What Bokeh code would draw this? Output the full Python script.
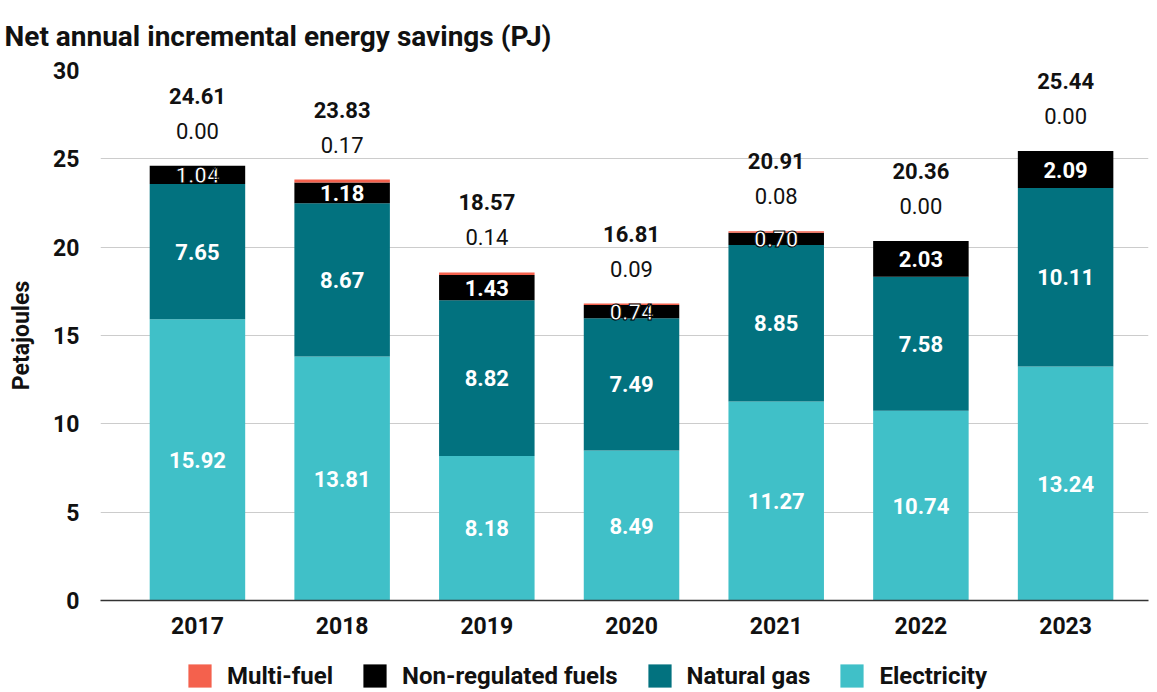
from bokeh.plotting import figure
from bokeh.models import ColumnDataSource, Range1d, FixedTicker, Legend, LegendItem
from bokeh.layouts import column
from bokeh.core.properties import value
from bokeh.embed import file_html
from bokeh.resources import INLINE

years = ["2017", "2018", "2019", "2020", "2021", "2022", "2023"]
electricity = [15.92, 13.81, 8.18, 8.49, 11.27, 10.74, 13.24]
natural_gas = [7.65, 8.67, 8.82, 7.49, 8.85, 7.58, 10.11]
non_regulated = [1.04, 1.18, 1.43, 0.74, 0.70, 2.03, 2.09]
multi_fuel = [0.00, 0.17, 0.14, 0.09, 0.08, 0.00, 0.00]
totals = [24.61, 23.83, 18.57, 16.81, 20.91, 20.36, 25.44]
y_ticks = [0, 5, 10, 15, 20, 25, 30]
series_names = ["Multi-fuel", "Non-regulated fuels", "Natural gas", "Electricity"]

C_ELEC = "#40c0c8"
C_GAS = "#02727f"
C_NONREG = "#000000"
C_MULTI = "#f4614d"
FONT = "Roboto"

x = list(range(len(years)))
e_mid = [e / 2 for e in electricity]
g_mid = [e + g / 2 for e, g in zip(electricity, natural_gas)]
n_mid = [e + g + n / 2 for e, g, n in zip(electricity, natural_gas, non_regulated)]
tops = [e + g + n + m for e, g, n, m in zip(electricity, natural_gas, non_regulated, multi_fuel)]
# thin segments get a dark halo round their label (the label spills out of the segment)
n_outline = ["black" if n < 1.1 else "rgba(0,0,0,0)" for n in non_regulated]

src = ColumnDataSource(dict(
    x=x, elec=electricity, gas=natural_gas, nonreg=non_regulated, multi=multi_fuel,
    e_mid=e_mid, g_mid=g_mid, n_mid=n_mid, top=tops, n_outline=n_outline,
    e_txt=[f"{v:.2f}" for v in electricity],
    g_txt=[f"{v:.2f}" for v in natural_gas],
    n_txt=[f"{v:.2f}" for v in non_regulated],
    m_txt=[f"{v:.2f}" for v in multi_fuel],
    t_txt=[f"{v:.2f}" for v in totals],
))

W = 1157
H_MAIN = 650
H_LEG = 42

p = figure(width=W, height=H_MAIN, x_range=Range1d(-0.670, 6.573), y_range=Range1d(0, 30),
           output_backend="svg", toolbar_location=None)
p.min_border_left = 100
p.min_border_right = 9
p.min_border_bottom = 50
p.min_border_top = 0
p.outline_line_color = None

p.title.text = "Net annual incremental energy savings (PJ)"
p.title.text_font = FONT
p.title.text_font_size = "28px"
p.title.text_font_style = "bold"
p.title.text_color = "#111111"
p.title.align = "left"
p.title.offset = -96
p.title.standoff = 35

rs = p.vbar_stack(["elec", "gas", "nonreg", "multi"], x="x", width=0.66,
                  fill_color=[C_ELEC, C_GAS, C_NONREG, C_MULTI], line_color=None, source=src)

common = dict(source=src, text_align="center", text_baseline="middle",
              text_font=value(FONT), text_font_size="22px")
p.text(x="x", y="e_mid", text="e_txt", text_color="white", text_font_style="bold", **common)
p.text(x="x", y="g_mid", text="g_txt", text_color="white", text_font_style="bold", **common)
p.text(x="x", y="n_mid", text="n_txt", text_color="white", text_font_style="bold",
       text_outline_color="n_outline", **common)
p.text(x="x", y="top", text="m_txt", text_color="#111111", text_font_style="normal",
       y_offset=-35, **common)
p.text(x="x", y="top", text="t_txt", text_color="#111111", text_font_style="bold",
       y_offset=-70, **common)

p.xaxis.ticker = FixedTicker(ticks=x)
p.xaxis.major_label_overrides = {i: y for i, y in enumerate(years)}
p.xaxis.major_tick_line_color = None
p.xaxis.minor_tick_line_color = None
p.xaxis.axis_line_color = "#333333"
p.xaxis.axis_line_width = 1.5
p.xaxis.major_label_text_font = FONT
p.xaxis.major_label_text_font_size = "23px"
p.xaxis.major_label_text_font_style = "bold"
p.xaxis.major_label_text_color = "#111111"
p.xaxis.major_label_standoff = 10

p.yaxis.ticker = FixedTicker(ticks=y_ticks)
p.yaxis.axis_line_color = None
p.yaxis.major_tick_line_color = None
p.yaxis.minor_tick_line_color = None
p.yaxis.major_label_text_font = FONT
p.yaxis.major_label_text_font_size = "23px"
p.yaxis.major_label_text_font_style = "bold"
p.yaxis.major_label_text_color = "#111111"
p.yaxis.major_label_standoff = 15
p.yaxis.axis_label = "Petajoules"
p.yaxis.axis_label_text_font = FONT
p.yaxis.axis_label_text_font_size = "23px"
p.yaxis.axis_label_text_font_style = "bold"
p.yaxis.axis_label_text_color = "#111111"
p.yaxis.axis_label_standoff = 15

p.xgrid.grid_line_color = None
p.ygrid.ticker = FixedTicker(ticks=y_ticks)
p.ygrid.grid_line_color = "#cccccc"
p.ygrid.grid_line_width = 1

# legend strip (separate figure so the legend can sit freely below the axis)
pl = figure(width=W, height=H_LEG, x_range=Range1d(0, 1), y_range=Range1d(0, 1),
            x_axis_type=None, y_axis_type=None, output_backend="svg", toolbar_location=None)
pl.min_border_left = 0
pl.min_border_right = 0
pl.min_border_top = 0
pl.min_border_bottom = 0
pl.outline_line_color = None
pl.xgrid.visible = False
pl.ygrid.visible = False
colors_by_name = {"Multi-fuel": C_MULTI, "Non-regulated fuels": C_NONREG,
                  "Natural gas": C_GAS, "Electricity": C_ELEC}
items = []
for name in series_names:
    r = pl.vbar(x=[0.5], top=[0], bottom=[0], width=0.0, fill_color=colors_by_name[name], line_color=None)
    items.append(LegendItem(label=name, renderers=[r]))
legend = Legend(items=items, orientation="horizontal", location=(85, 2))
legend.border_line_color = None
legend.background_fill_alpha = 0
legend.label_text_font = FONT
legend.label_text_font_size = "24px"
legend.label_text_font_style = "bold"
legend.label_text_color = "#111111"
legend.glyph_width = 29
legend.glyph_height = 29
legend.label_height = 29
legend.label_standoff = 13
legend.spacing = 27
legend.padding = 0
legend.margin = 0
pl.add_layout(legend)

layout = column(p, pl, spacing=0)
open("out.html", "w").write(file_html(layout, INLINE))
